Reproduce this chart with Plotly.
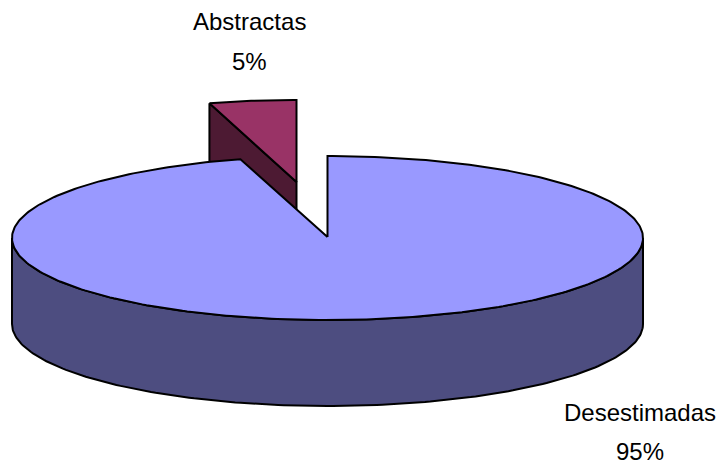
import numpy as np
import plotly.graph_objects as go

# Data
categories = ["Desestimadas", "Abstractas"]
shares = [95, 5]

# Drawing geometry (pixels of the 718x465 page)
W, H = 718, 465
CX, CY, RX, RY = 327.5, 238.0, 315.5, 82.0
DEPTH = 86
EXPLODE = (-31.0, -56.0)
ANGLE_SCALE = 0.89  # the perspective squeezes the small wedge
TOP_COL = {"Desestimadas": "#9999FF", "Abstractas": "#993366"}
SIDE_COL = {"Desestimadas": "#4D4D80", "Abstractas": "#4D1A33"}
LABEL_POS = {"Desestimadas": (640, 412, 451), "Abstractas": (249, 21, 61)}
LW = 2


def ring(deg, cx=CX, cy=CY):
    t = np.radians(deg)
    return cx + RX * np.sin(t), cy - RY * np.cos(t)


def poly(xs, ys, fill, name):
    return go.Scatter(x=list(xs), y=list(ys), mode="lines", fill="toself", fillcolor=fill,
                      line=dict(color="black", width=LW), name=name, hoverinfo="name",
                      showlegend=False)


total = sum(shares)
wedge = 360 * shares[1] / total * ANGLE_SCALE
main_end = 360 - wedge

fig = go.Figure()

# Exploded wedge: its cut wall, then its top face
sx, sy = CX + EXPLODE[0], CY + EXPLODE[1]
ang = np.linspace(main_end, 360, 30)
ax, ay = ring(ang, sx, sy)
name = categories[1]
fig.add_trace(poly([ax[0], sx, sx, ax[0], ax[0]],
                   [ay[0], sy, sy + DEPTH, ay[0] + DEPTH, ay[0]],
                   SIDE_COL[name], name))
fig.add_trace(poly(list(ax) + [sx, ax[0]], list(ay) + [sy, ay[0]], TOP_COL[name], name))

# Main slice: outer wall, then top face
name = categories[0]
front = np.linspace(90, 270, 181)
fx, fy = ring(front)
fig.add_trace(poly(list(fx) + list(fx[::-1]) + [fx[0]],
                   list(fy) + list(fy[::-1] + DEPTH) + [fy[0]],
                   SIDE_COL[name], name))
ang = np.linspace(0, main_end, 361)
mx, my = ring(ang)
fig.add_trace(poly([CX] + list(mx) + [CX], [CY - 1] + list(my) + [CY - 1], TOP_COL[name], name))

annotations = []
for cat, val in zip(categories, shares):
    x, y1, y2 = LABEL_POS[cat]
    for y, txt in ((y1, cat), (y2, f"{val}%")):
        annotations.append(dict(x=x, y=y, xref="x", yref="y", text=txt, showarrow=False,
                                xanchor="center", yanchor="middle",
                                font=dict(family="Liberation Sans", size=24, color="black")))

fig.update_layout(
    width=W, height=H, margin=dict(l=0, r=0, t=0, b=0),
    paper_bgcolor="white", plot_bgcolor="white", showlegend=False,
    xaxis=dict(range=[0, W], visible=False, fixedrange=True),
    yaxis=dict(range=[H, 0], visible=False, fixedrange=True),
    annotations=annotations,
)
fig.write_html("out.html", config={"displayModeBar": False},
               post_script="document.body.style.margin='0';document.body.style.overflow='hidden';")
